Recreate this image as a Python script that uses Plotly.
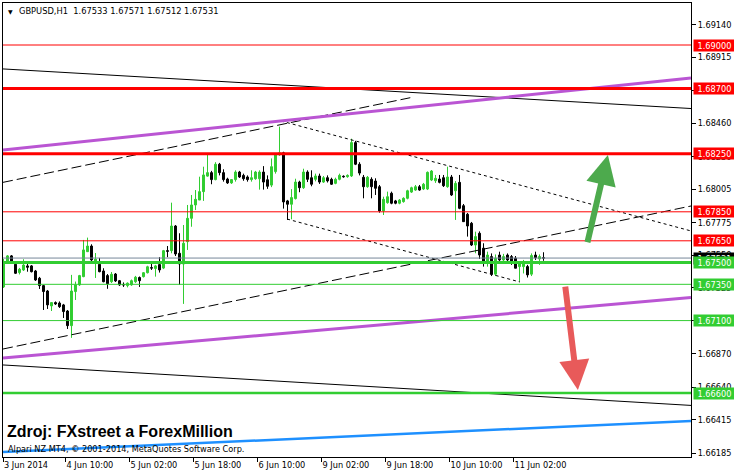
import plotly.graph_objects as go

# ---------------- data ----------------
bars = list(range(136))  # hourly bars, 3 Jun 2014 18:00 ... 11 Jun 2014 09:00

opens = [1.67332, 1.67504, 1.67546, 1.67488, 1.67431, 1.67449, 1.67477, 1.67477, 1.67442, 1.67392,
         1.67341, 1.67304, 1.67201, 1.67224, 1.67221, 1.67208, 1.67166, 1.67065, 1.67300, 1.67346,
         1.67403, 1.67575, 1.67614, 1.67511, 1.67488, 1.67442, 1.67410, 1.67368, 1.67421, 1.67375,
         1.67349, 1.67341, 1.67346, 1.67368, 1.67397, 1.67403, 1.67430, 1.67465, 1.67459, 1.67486,
         1.67462, 1.67582, 1.67582, 1.67752, 1.67564, 1.67490, 1.67644, 1.67805, 1.67897, 1.67931,
         1.67989, 1.68096, 1.68120, 1.68072, 1.68178, 1.68120, 1.68076, 1.68049, 1.68072, 1.68124,
         1.68101, 1.68090, 1.68072, 1.68078, 1.68078, 1.68124, 1.68071, 1.68034, 1.68127, 1.68243,
         1.68257, 1.67925, 1.67902, 1.67941, 1.68055, 1.68016, 1.68124, 1.68085, 1.68074, 1.68097,
         1.68055, 1.68085, 1.68074, 1.68046, 1.68074, 1.68095, 1.68092, 1.68097, 1.68327, 1.68178,
         1.68088, 1.68023, 1.68074, 1.68062, 1.68023, 1.67856, 1.67913, 1.67978, 1.67925, 1.67909,
         1.67920, 1.67943, 1.67986, 1.68000, 1.68023, 1.68007, 1.68007, 1.68069, 1.68064, 1.68076,
         1.68085, 1.68023, 1.68090, 1.67995, 1.68053, 1.67892, 1.67833, 1.67771, 1.67621, 1.67702,
         1.67599, 1.67502, 1.67541, 1.67420, 1.67552, 1.67518, 1.67552, 1.67541, 1.67530, 1.67472,
         1.67472, 1.67472, 1.67420, 1.67552, 1.67525, 1.67533]
highs = [1.67525, 1.67552, 1.67552, 1.67497, 1.67463, 1.67523, 1.67497, 1.67483, 1.67449, 1.67401,
         1.67346, 1.67311, 1.67228, 1.67232, 1.67232, 1.67215, 1.67173, 1.67415, 1.67369, 1.67415,
         1.67656, 1.67672, 1.67626, 1.67566, 1.67532, 1.67461, 1.67421, 1.67435, 1.67428, 1.67380,
         1.67363, 1.67363, 1.67383, 1.67408, 1.67404, 1.67435, 1.67478, 1.67491, 1.67484, 1.67537,
         1.67587, 1.67614, 1.67913, 1.67759, 1.67702, 1.67759, 1.67897, 1.67966, 1.68000, 1.68092,
         1.68161, 1.68244, 1.68132, 1.68192, 1.68187, 1.68143, 1.68085, 1.68076, 1.68136, 1.68132,
         1.68113, 1.68101, 1.68136, 1.68132, 1.68136, 1.68165, 1.68101, 1.68218, 1.68250, 1.68437,
         1.68264, 1.67932, 1.68006, 1.68078, 1.68064, 1.68147, 1.68136, 1.68136, 1.68113, 1.68113,
         1.68097, 1.68101, 1.68085, 1.68085, 1.68113, 1.68101, 1.68108, 1.68354, 1.68339, 1.68192,
         1.68104, 1.68097, 1.68088, 1.68081, 1.68035, 1.67954, 1.67989, 1.67989, 1.67932, 1.67938,
         1.67950, 1.68002, 1.68023, 1.68035, 1.68035, 1.68049, 1.68128, 1.68138, 1.68104, 1.68104,
         1.68104, 1.68161, 1.68104, 1.68062, 1.68104, 1.67904, 1.67842, 1.67780, 1.67713, 1.67715,
         1.67633, 1.67575, 1.67563, 1.67556, 1.67575, 1.67560, 1.67563, 1.67552, 1.67545, 1.67502,
         1.67518, 1.67484, 1.67563, 1.67575, 1.67556, 1.67571]
lows = [1.67325, 1.67497, 1.67490, 1.67421, 1.67418, 1.67442, 1.67437, 1.67432, 1.67373, 1.67318,
        1.67173, 1.67180, 1.67166, 1.67208, 1.67187, 1.67118, 1.67042, 1.66981, 1.67242, 1.67339,
        1.67399, 1.67573, 1.67506, 1.67394, 1.67433, 1.67364, 1.67319, 1.67359, 1.67366, 1.67339,
        1.67332, 1.67329, 1.67340, 1.67360, 1.67332, 1.67397, 1.67425, 1.67449, 1.67403, 1.67431,
        1.67455, 1.67537, 1.67564, 1.67545, 1.67346, 1.67215, 1.67587, 1.67747, 1.67862, 1.67931,
        1.67925, 1.68092, 1.68040, 1.68067, 1.68101, 1.68058, 1.68042, 1.68042, 1.68058, 1.68083,
        1.68064, 1.68058, 1.68058, 1.68071, 1.68003, 1.68003, 1.68008, 1.68020, 1.68113, 1.68236,
        1.67872, 1.67794, 1.67798, 1.67935, 1.67985, 1.68008, 1.68055, 1.68026, 1.68060, 1.68042,
        1.68049, 1.68052, 1.68035, 1.68040, 1.68067, 1.68085, 1.68085, 1.68090, 1.68172, 1.68101,
        1.67943, 1.68016, 1.67943, 1.67966, 1.67844, 1.67828, 1.67906, 1.67902, 1.67902, 1.67902,
        1.67913, 1.67936, 1.67980, 1.67995, 1.67995, 1.68000, 1.68000, 1.68062, 1.68049, 1.68046,
        1.68021, 1.68016, 1.67959, 1.67794, 1.67868, 1.67780, 1.67679, 1.67614, 1.67564, 1.67525,
        1.67472, 1.67472, 1.67407, 1.67407, 1.67495, 1.67495, 1.67505, 1.67484, 1.67461, 1.67368,
        1.67425, 1.67397, 1.67407, 1.67518, 1.67484, 1.67512]
closes = [1.67504, 1.67546, 1.67506, 1.67426, 1.67454, 1.67483, 1.67468, 1.67437, 1.67380, 1.67341,
          1.67300, 1.67208, 1.67224, 1.67215, 1.67196, 1.67162, 1.67065, 1.67304, 1.67346, 1.67410,
          1.67587, 1.67614, 1.67518, 1.67523, 1.67437, 1.67368, 1.67354, 1.67419, 1.67373, 1.67346,
          1.67346, 1.67358, 1.67375, 1.67399, 1.67375, 1.67430, 1.67471, 1.67462, 1.67477, 1.67449,
          1.67582, 1.67578, 1.67752, 1.67559, 1.67490, 1.67633, 1.67805, 1.67897, 1.67936, 1.67989,
          1.68104, 1.68120, 1.68072, 1.68178, 1.68120, 1.68072, 1.68049, 1.68072, 1.68124, 1.68090,
          1.68078, 1.68072, 1.68085, 1.68124, 1.68124, 1.68055, 1.68026, 1.68161, 1.68243, 1.68257,
          1.67918, 1.67902, 1.67948, 1.68055, 1.68016, 1.68124, 1.68074, 1.68040, 1.68097, 1.68055,
          1.68085, 1.68063, 1.68040, 1.68074, 1.68101, 1.68092, 1.68101, 1.68327, 1.68178, 1.68117,
          1.68023, 1.68088, 1.68023, 1.68012, 1.67856, 1.67936, 1.67954, 1.67909, 1.67909, 1.67931,
          1.67943, 1.67995, 1.68016, 1.68023, 1.68000, 1.68040, 1.68122, 1.68131, 1.68081, 1.68053,
          1.68030, 1.68090, 1.67966, 1.68046, 1.67874, 1.67782, 1.67752, 1.67621, 1.67679, 1.67552,
          1.67506, 1.67552, 1.67420, 1.67530, 1.67518, 1.67541, 1.67518, 1.67506, 1.67461, 1.67495,
          1.67498, 1.67415, 1.67548, 1.67534, 1.67541, 1.67531]

symbol_header = "GBPUSD,H1  1.67533 1.67571 1.67512 1.67531"
bid_price = 1.67531

# horizontal levels
level_prices = [1.69000, 1.68700, 1.68250, 1.67850, 1.67650, 1.67500, 1.67350, 1.67100, 1.66600]
level_colors = ["#FF0000"] * 5 + ["#32CD32"] * 4
level_widths = [1, 3, 3, 1, 1, 3, 1, 1, 2.5]

# trend lines: (bar0, price0, bar1, price1)
purple_upper = (-0.125, 1.68276, 171.875, 1.68773)
purple_lower = (-0.125, 1.66842, 171.875, 1.67259)
black_upper = (-0.125, 1.68835, 171.875, 1.68562)
black_lower = (-0.125, 1.66794, 171.875, 1.66515)
blue_line = (-0.125, 1.66194, 171.875, 1.66408)
channel_low = (-0.125, 1.66904, 171.875, 1.67890)
channel_high = (-0.125, 1.68053, 102.1, 1.68639)
dotted_high = (69.4, 1.68476, 171.875, 1.67718)
dotted_low = (70.9, 1.67800, 129.1, 1.67366)

# arrows (tail bar, tail price, head bar, head price)
arrow_up = (145.9, 1.67630, 151.1, 1.68242)
arrow_down = (140.4, 1.67345, 143.6, 1.66621)

# axes ticks
y_ticks = [1.69140, 1.68915, 1.68685, 1.68460, 1.68230, 1.68005, 1.67775, 1.67550,
           1.67325, 1.67100, 1.66870, 1.66640, 1.66415, 1.66185]
x_tick_pos = [-0.125, 15.5, 31.5, 47.5, 63.5, 79.5, 95.5, 111.5, 127.5]
x_tick_labels = ["3 Jun 2014", "4 Jun 10:00", "5 Jun 02:00", "5 Jun 18:00", "6 Jun 10:00",
                 "9 Jun 02:00", "9 Jun 18:00", "10 Jun 10:00", "11 Jun 02:00"]

X_RANGE = [-0.125, 171.875]
Y_RANGE = [1.661594, 1.692896]
FONT = "DejaVu Sans"

# ---------------- figure ----------------
fig = go.Figure()

fig.add_trace(go.Candlestick(
    x=bars, open=opens, high=highs, low=lows, close=closes,
    increasing=dict(line=dict(color="#32CD32", width=1), fillcolor="#32CD32"),
    decreasing=dict(line=dict(color="#000000", width=1), fillcolor="#000000"),
    whiskerwidth=0, hoverinfo="skip", showlegend=False))


def seg(line, color, width, dash="solid"):
    fig.add_trace(go.Scatter(x=[line[0], line[2]], y=[line[1], line[3]], mode="lines",
                             line=dict(color=color, width=width, dash=dash),
                             hoverinfo="skip", showlegend=False))


seg(channel_low, "#000000", 1, "10px,4px")
seg(channel_high, "#000000", 1, "10px,4px")
seg(dotted_high, "#000000", 1, "3px,3px")
seg(dotted_low, "#000000", 1, "3px,3px")
seg(black_upper, "#000000", 1)
seg(black_lower, "#000000", 1)
seg(purple_upper, "#BA55D3", 3)
seg(purple_lower, "#BA55D3", 3)
seg(blue_line, "#1E90FF", 2.5)

for p, c, w in zip(level_prices, level_colors, level_widths):
    seg((X_RANGE[0] - 2, p, X_RANGE[1] + 2, p), c, w)
seg((X_RANGE[0] - 2, bid_price, X_RANGE[1] + 2, bid_price), "#778899", 1)

annotations = []
# price labels on the right axis
annotations.append(dict(x=1, xref="paper", xanchor="left", xshift=2, y=bid_price, yref="y",
                        text=f"{bid_price:.5f}", showarrow=False, bgcolor="#000000",
                        font=dict(family=FONT, size=8.2, color="white"),
                        width=41, height=11, borderpad=0))
for p, c in zip(level_prices, level_colors):
    annotations.append(dict(x=1, xref="paper", xanchor="left", xshift=2, y=p, yref="y",
                            text=f"{p:.5f}", showarrow=False, bgcolor=c,
                            font=dict(family=FONT, size=8.2, color="white"),
                            width=41, height=11, borderpad=0))

# arrows
annotations.append(dict(x=arrow_up[2], y=arrow_up[3], ax=arrow_up[0], ay=arrow_up[1],
                        xref="x", yref="y", axref="x", ayref="y", text="", showarrow=True,
                        arrowhead=2, arrowsize=1.0, arrowwidth=6, arrowcolor="#4DAA4D"))
annotations.append(dict(x=arrow_down[2], y=arrow_down[3], ax=arrow_down[0], ay=arrow_down[1],
                        xref="x", yref="y", axref="x", ayref="y", text="", showarrow=True,
                        arrowhead=2, arrowsize=1.0, arrowwidth=6, arrowcolor="#E85A5A"))

# header
annotations.append(dict(x=0, xref="paper", xanchor="left", xshift=3, y=1, yref="paper",
                        yanchor="middle", yshift=-8, text="\u25BC", showarrow=False,
                        font=dict(family=FONT, size=6, color="black")))
annotations.append(dict(x=0, xref="paper", xanchor="left", xshift=14, y=1, yref="paper",
                        yanchor="middle", yshift=-8, text=symbol_header, showarrow=False,
                        font=dict(family=FONT, size=8.3, color="black")))
# source text
annotations.append(dict(x=0, xref="paper", xanchor="left", xshift=2, y=0, yref="paper",
                        yanchor="middle", yshift=26, text="Zdroj: FXstreet a ForexMillion",
                        showarrow=False,
                        font=dict(family="Liberation Sans", size=16, color="black", weight="bold")))
annotations.append(dict(x=0, xref="paper", xanchor="left", xshift=3, y=0, yref="paper",
                        yanchor="middle", yshift=8,
                        text="Alpari NZ MT4, \u00a9 2001-2014, MetaQuotes Software Corp.",
                        showarrow=False, font=dict(family=FONT, size=8.2, color="black")))

fig.update_layout(
    width=734, height=475,
    margin=dict(l=3, r=43, t=3, b=18),
    paper_bgcolor="white", plot_bgcolor="white",
    showlegend=False,
    annotations=annotations,
    xaxis=dict(range=X_RANGE, showgrid=False, zeroline=False, rangeslider=dict(visible=False),
               showline=True, linecolor="black", linewidth=1, mirror=True,
               tickmode="array", tickvals=x_tick_pos, ticktext=x_tick_labels,
               ticks="outside", ticklen=4, tickcolor="black",
               ticklabelposition="outside right",
               tickfont=dict(family=FONT, size=8.2, color="black")),
    yaxis=dict(range=Y_RANGE, side="right", showgrid=False, zeroline=False,
               showline=True, linecolor="black", linewidth=1, mirror=True,
               tickmode="array", tickvals=y_ticks, ticktext=[f"{v:.5f}" for v in y_ticks],
               ticks="outside", ticklen=4, tickcolor="black",
               tickfont=dict(family=FONT, size=8.2, color="black")),
)

fig.write_html("out.html", config={"displayModeBar": False},
               post_script="document.body.style.margin='0';document.body.style.overflow='hidden';")
